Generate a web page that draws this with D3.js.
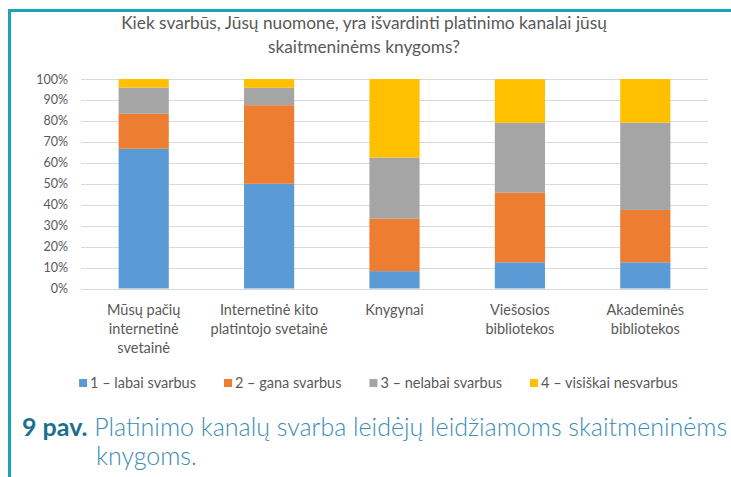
<!DOCTYPE html>
<html>
<head>
<meta charset="utf-8">
<style>
  body { margin: 0; background: white; }
  svg { font-family: 'Lato', sans-serif; }
  .grid line { stroke: #d9d9d9; stroke-width: 1; }
  .axis text { fill: #595959; font-size: 12.5px; }
  .title { fill: #595959; font-size: 17.3px; }
  .xlab { fill: #595959; font-size: 14.5px; }
  .legend text { fill: #595959; font-size: 14.5px; }
</style>
</head>
<body>
<script src="https://cdn.jsdelivr.net/npm/d3@7"></script>
<div id="chart"></div>
<script>

// categories (x labels, split in lines)
var categories = [
  ["Mūsų pačių", "internetinė", "svetainė"],
  ["Internetinė kito", "platintojo svetainė"],
  ["Knygynai"],
  ["Viešosios", "bibliotekos"],
  ["Akademinės", "bibliotekos"]
];
var seriesNames = ["1 – labai svarbus", "2 – gana svarbus", "3 – nelabai svarbus", "4 – visiškai nesvarbus"];
var seriesColors = ["#5b9bd5", "#ed7d31", "#a5a5a5", "#ffc000"];

// shares (%) per category, one array per series
var labaiSvarbus   = [66.7, 50.0,  8.3, 12.5, 12.5];
var ganaSvarbus    = [16.7, 37.5, 25.0, 33.3, 25.0];
var nelabaiSvarbus = [12.5,  8.3, 29.2, 33.3, 41.7];
var visiskaiNe     = [ 4.2,  4.2, 37.5, 20.8, 20.8];
var yTicks = [0, 10, 20, 30, 40, 50, 60, 70, 80, 90, 100];

var W = 731, H = 477;
var svg = d3.select("#chart").append("svg").attr("width", W).attr("height", H);

// teal frame
svg.append("path")
  .attr("d", "M9.5,477 L9.5,10.5 L731,10.5")
  .attr("fill", "none").attr("stroke", "#1ba3b5").attr("stroke-width", 3);

// title
var title = svg.append("text").attr("class", "title").attr("text-anchor", "middle");
title.append("tspan").attr("x", 364).attr("y", 29).text("Kiek svarbūs, Jūsų nuomone, yra išvardinti platinimo kanalai jūsų");
title.append("tspan").attr("x", 364).attr("y", 53).text("skaitmeninėms knygoms?");

var plotLeft = 81, plotRight = 708, plotTop = 79, plotBottom = 288.5;

var x = d3.scaleBand().domain(d3.range(categories.length))
  .range([plotLeft, plotRight]).paddingInner(0.6).paddingOuter(0.3);
var y = d3.scaleLinear().domain([0, 100]).range([plotBottom, plotTop]);

// gridlines
svg.append("g").attr("class", "grid")
  .selectAll("line").data(yTicks).enter().append("line")
  .attr("x1", plotLeft).attr("x2", plotRight)
  .attr("y1", function(d) { return Math.round(y(d)) + 0.5; })
  .attr("y2", function(d) { return Math.round(y(d)) + 0.5; });

// y axis labels
var yAxis = svg.append("g").attr("class", "axis")
  .attr("transform", "translate(" + (plotLeft - 4) + ",0)")
  .call(d3.axisLeft(y).tickValues(yTicks).tickSize(0).tickPadding(9).tickFormat(function(d) { return d + "%"; }));
yAxis.select(".domain").remove();
yAxis.selectAll("text").attr("font-family", "Lato");

// stacked data
var rows = categories.map(function(c, i) {
  return { i: i, s0: labaiSvarbus[i], s1: ganaSvarbus[i], s2: nelabaiSvarbus[i], s3: visiskaiNe[i] };
});
var stack = d3.stack().keys(["s0", "s1", "s2", "s3"]);
var layers = stack(rows);

svg.append("g").selectAll("g").data(layers).enter().append("g")
  .attr("fill", function(d, k) { return seriesColors[k]; })
  .selectAll("rect").data(function(d) { return d; }).enter().append("rect")
  .attr("x", function(d) { return x(d.data.i); })
  .attr("width", x.bandwidth())
  .attr("y", function(d) { return y(Math.min(d[1], 100)); })
  .attr("height", function(d) { return y(d[0]) - y(Math.min(d[1], 100)); });

// x labels
var xl = svg.append("g").selectAll("text").data(categories).enter().append("text")
  .attr("class", "xlab").attr("text-anchor", "middle");
xl.each(function(lines, i) {
  var t = d3.select(this);
  lines.forEach(function(l, j) {
    t.append("tspan").attr("x", x(i) + x.bandwidth() / 2).attr("y", 315 + j * 19).text(l);
  });
});

// legend
var legend = svg.append("g").attr("class", "legend");
var items = legend.selectAll("g").data(seriesNames).enter().append("g");
items.append("rect").attr("width", 8).attr("height", 8).attr("y", 379)
  .attr("fill", function(d, k) { return seriesColors[k]; });
items.append("text").attr("x", 11).attr("y", 388).text(function(d) { return d; });
var widths = [];
items.select("text").each(function() { widths.push(this.getComputedTextLength() + 11); });
var gap = 28;
var total = d3.sum(widths) + gap * (widths.length - 1);
var pos = 378.5 - total / 2;
items.attr("transform", function(d, k) {
  var p = pos; pos += widths[k] + gap;
  return "translate(" + p + ",0)";
});

// caption
var cap = svg.append("text").attr("y", 436).style("font-size", "25px");
cap.append("tspan").attr("x", 22).attr("fill", "#1b6f8f").attr("font-weight", "bold").text("9 pav.");
cap.append("tspan").attr("fill", "#3a8db5").attr("font-weight", 300).text(" Platinimo kanalų svarba leidėjų leidžiamoms skaitmeninėms");
svg.append("text").attr("x", 96).attr("y", 465).style("font-size", "25px")
  .attr("fill", "#3a8db5").attr("font-weight", 300).text("knygoms.");

</script>
</body>
</html>
